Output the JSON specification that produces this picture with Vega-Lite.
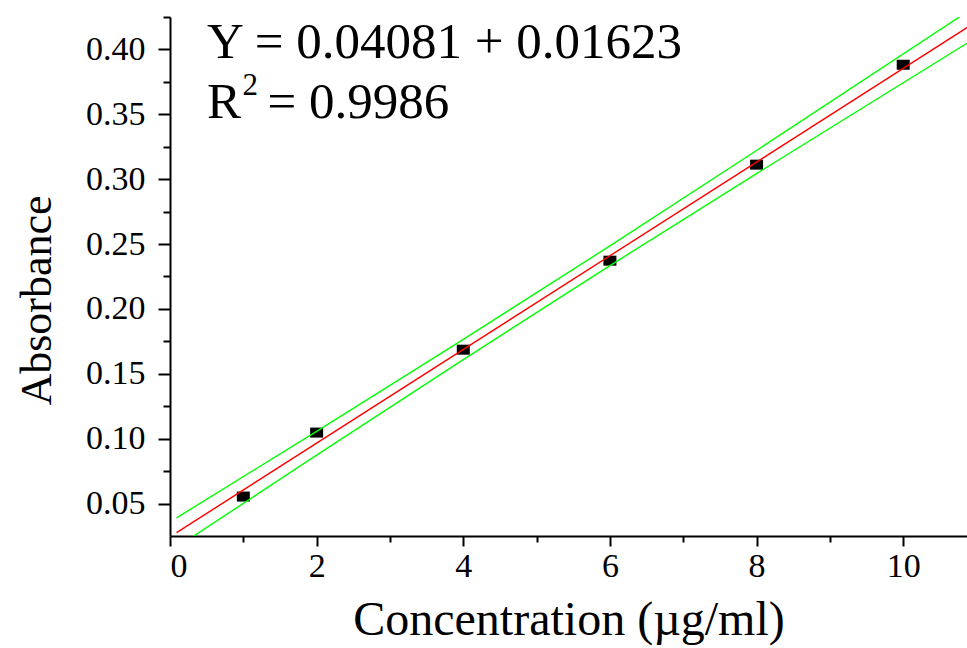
{
  "$schema": "https://vega.github.io/schema/vega-lite/v6.json",
  "width": 797,
  "height": 519,
  "autosize": {"type": "none"},
  "padding": {"left": 170, "top": 17, "right": 0, "bottom": 112},
  "background": "white",
  "config": {
    "view": {"stroke": null},
    "font": "Liberation Serif",
    "axis": {
      "grid": false,
      "domainColor": "black",
      "domainWidth": 2,
      "tickColor": "black",
      "tickWidth": 2,
      "labelColor": "black",
      "labelFont": "Liberation Serif",
      "titleFont": "Liberation Serif",
      "titleFontWeight": "normal",
      "titleColor": "black"
    }
  },
  "datasets": {
    "pts": [
      {"conc": 1, "abs": 0.0554},
      {"conc": 2, "abs": 0.1047},
      {"conc": 4, "abs": 0.1686},
      {"conc": 6, "abs": 0.2372},
      {"conc": 8, "abs": 0.3112},
      {"conc": 10, "abs": 0.3882}
    ],
    "lines": [
      {"conc": 0.09, "abs": 0.0276, "band": "fit"},
      {"conc": 10.9, "abs": 0.4179, "band": "fit"},
      {"conc": 0.09, "abs": 0.0390, "band": "upper"},
      {"conc": 2, "abs": 0.1057, "band": "upper"},
      {"conc": 4, "abs": 0.1765, "band": "upper"},
      {"conc": 6, "abs": 0.2486, "band": "upper"},
      {"conc": 8, "abs": 0.3221, "band": "upper"},
      {"conc": 10.9, "abs": 0.4300, "band": "upper"},
      {"conc": 0.09, "abs": 0.0163, "band": "lower"},
      {"conc": 2, "abs": 0.0873, "band": "lower"},
      {"conc": 4, "abs": 0.1610, "band": "lower"},
      {"conc": 6, "abs": 0.2334, "band": "lower"},
      {"conc": 8, "abs": 0.3043, "band": "lower"},
      {"conc": 10.9, "abs": 0.4058, "band": "lower"}
    ]
  },
  "layer": [
    {
      "data": {"name": "pts"},
      "mark": {"type": "point", "shape": "M-1.3,-1H1.3V1H-1.3Z", "filled": true, "color": "black", "opacity": 1, "size": 100},
      "encoding": {
        "x": {
          "field": "conc", "type": "quantitative",
          "scale": {"domain": [0, 10.87], "nice": false, "zero": false},
          "axis": {
            "orient": "bottom",
            "values": [0, 2, 4, 6, 8, 10],
            "format": "d",
            "tickSize": 10,
            "labelFontSize": 34,
            "labelPadding": 3,
            "title": "Concentration (µg/ml)",
            "titleFontSize": 48,
            "titlePadding": 13
          }
        },
        "y": {
          "field": "abs", "type": "quantitative",
          "scale": {"domain": [0.025, 0.425], "nice": false, "zero": false},
          "axis": {
            "orient": "left",
            "values": [0.05, 0.1, 0.15, 0.2, 0.25, 0.3, 0.35, 0.4],
            "format": ".2f",
            "tickSize": 12,
            "labelFontSize": 34,
            "labelPadding": 13,
            "title": "Absorbance",
            "titleFontSize": 44,
            "titlePadding": 26,
            "titleY": 283
          }
        }
      }
    },
    {
      "data": {"name": "lines"},
      "mark": {"type": "line", "clip": true, "strokeWidth": 1.4},
      "encoding": {
        "x": {
          "field": "conc", "type": "quantitative",
          "axis": {"orient": "bottom", "values": [1, 3, 5, 7, 9], "labels": false, "domain": false, "tickSize": 6, "title": null}
        },
        "y": {
          "field": "abs", "type": "quantitative",
          "axis": {"orient": "left", "values": [0.075, 0.125, 0.175, 0.225, 0.275, 0.325, 0.375, 0.425], "labels": false, "domain": false, "tickSize": 7, "title": null}
        },
        "color": {
          "field": "band", "type": "nominal",
          "scale": {"domain": ["fit", "upper", "lower"], "range": ["#ff0000", "#00ff00", "#00ff00"]},
          "legend": null
        },
        "detail": {"field": "band"}
      }
    },
    {
      "data": {"values": [{}]},
      "mark": {"type": "text", "align": "left", "baseline": "alphabetic", "fontSize": 51, "font": "Liberation Serif", "color": "black"},
      "encoding": {
        "x": {"datum": 0.505, "type": "quantitative", "axis": null},
        "y": {"datum": 0.3936, "type": "quantitative", "axis": null},
        "text": {"value": "Y = 0.04081 + 0.01623"}
      }
    },
    {
      "data": {"values": [{}]},
      "mark": {"type": "text", "align": "left", "baseline": "alphabetic", "fontSize": 51, "font": "Liberation Serif", "color": "black"},
      "encoding": {
        "x": {"datum": 0.505, "type": "quantitative", "axis": null},
        "y": {"datum": 0.3474, "type": "quantitative", "axis": null},
        "text": {"value": "R"}
      }
    },
    {
      "data": {"values": [{}]},
      "mark": {"type": "text", "align": "left", "baseline": "alphabetic", "fontSize": 31, "font": "Liberation Serif", "color": "black"},
      "encoding": {
        "x": {"datum": 0.99, "type": "quantitative", "axis": null},
        "y": {"datum": 0.3651, "type": "quantitative", "axis": null},
        "text": {"value": "2"}
      }
    },
    {
      "data": {"values": [{}]},
      "mark": {"type": "text", "align": "left", "baseline": "alphabetic", "fontSize": 51, "font": "Liberation Serif", "color": "black"},
      "encoding": {
        "x": {"datum": 1.33, "type": "quantitative", "axis": null},
        "y": {"datum": 0.3474, "type": "quantitative", "axis": null},
        "text": {"value": "= 0.9986"}
      }
    }
  ],
  "resolve": {"axis": {"x": "independent", "y": "independent"}}
}
